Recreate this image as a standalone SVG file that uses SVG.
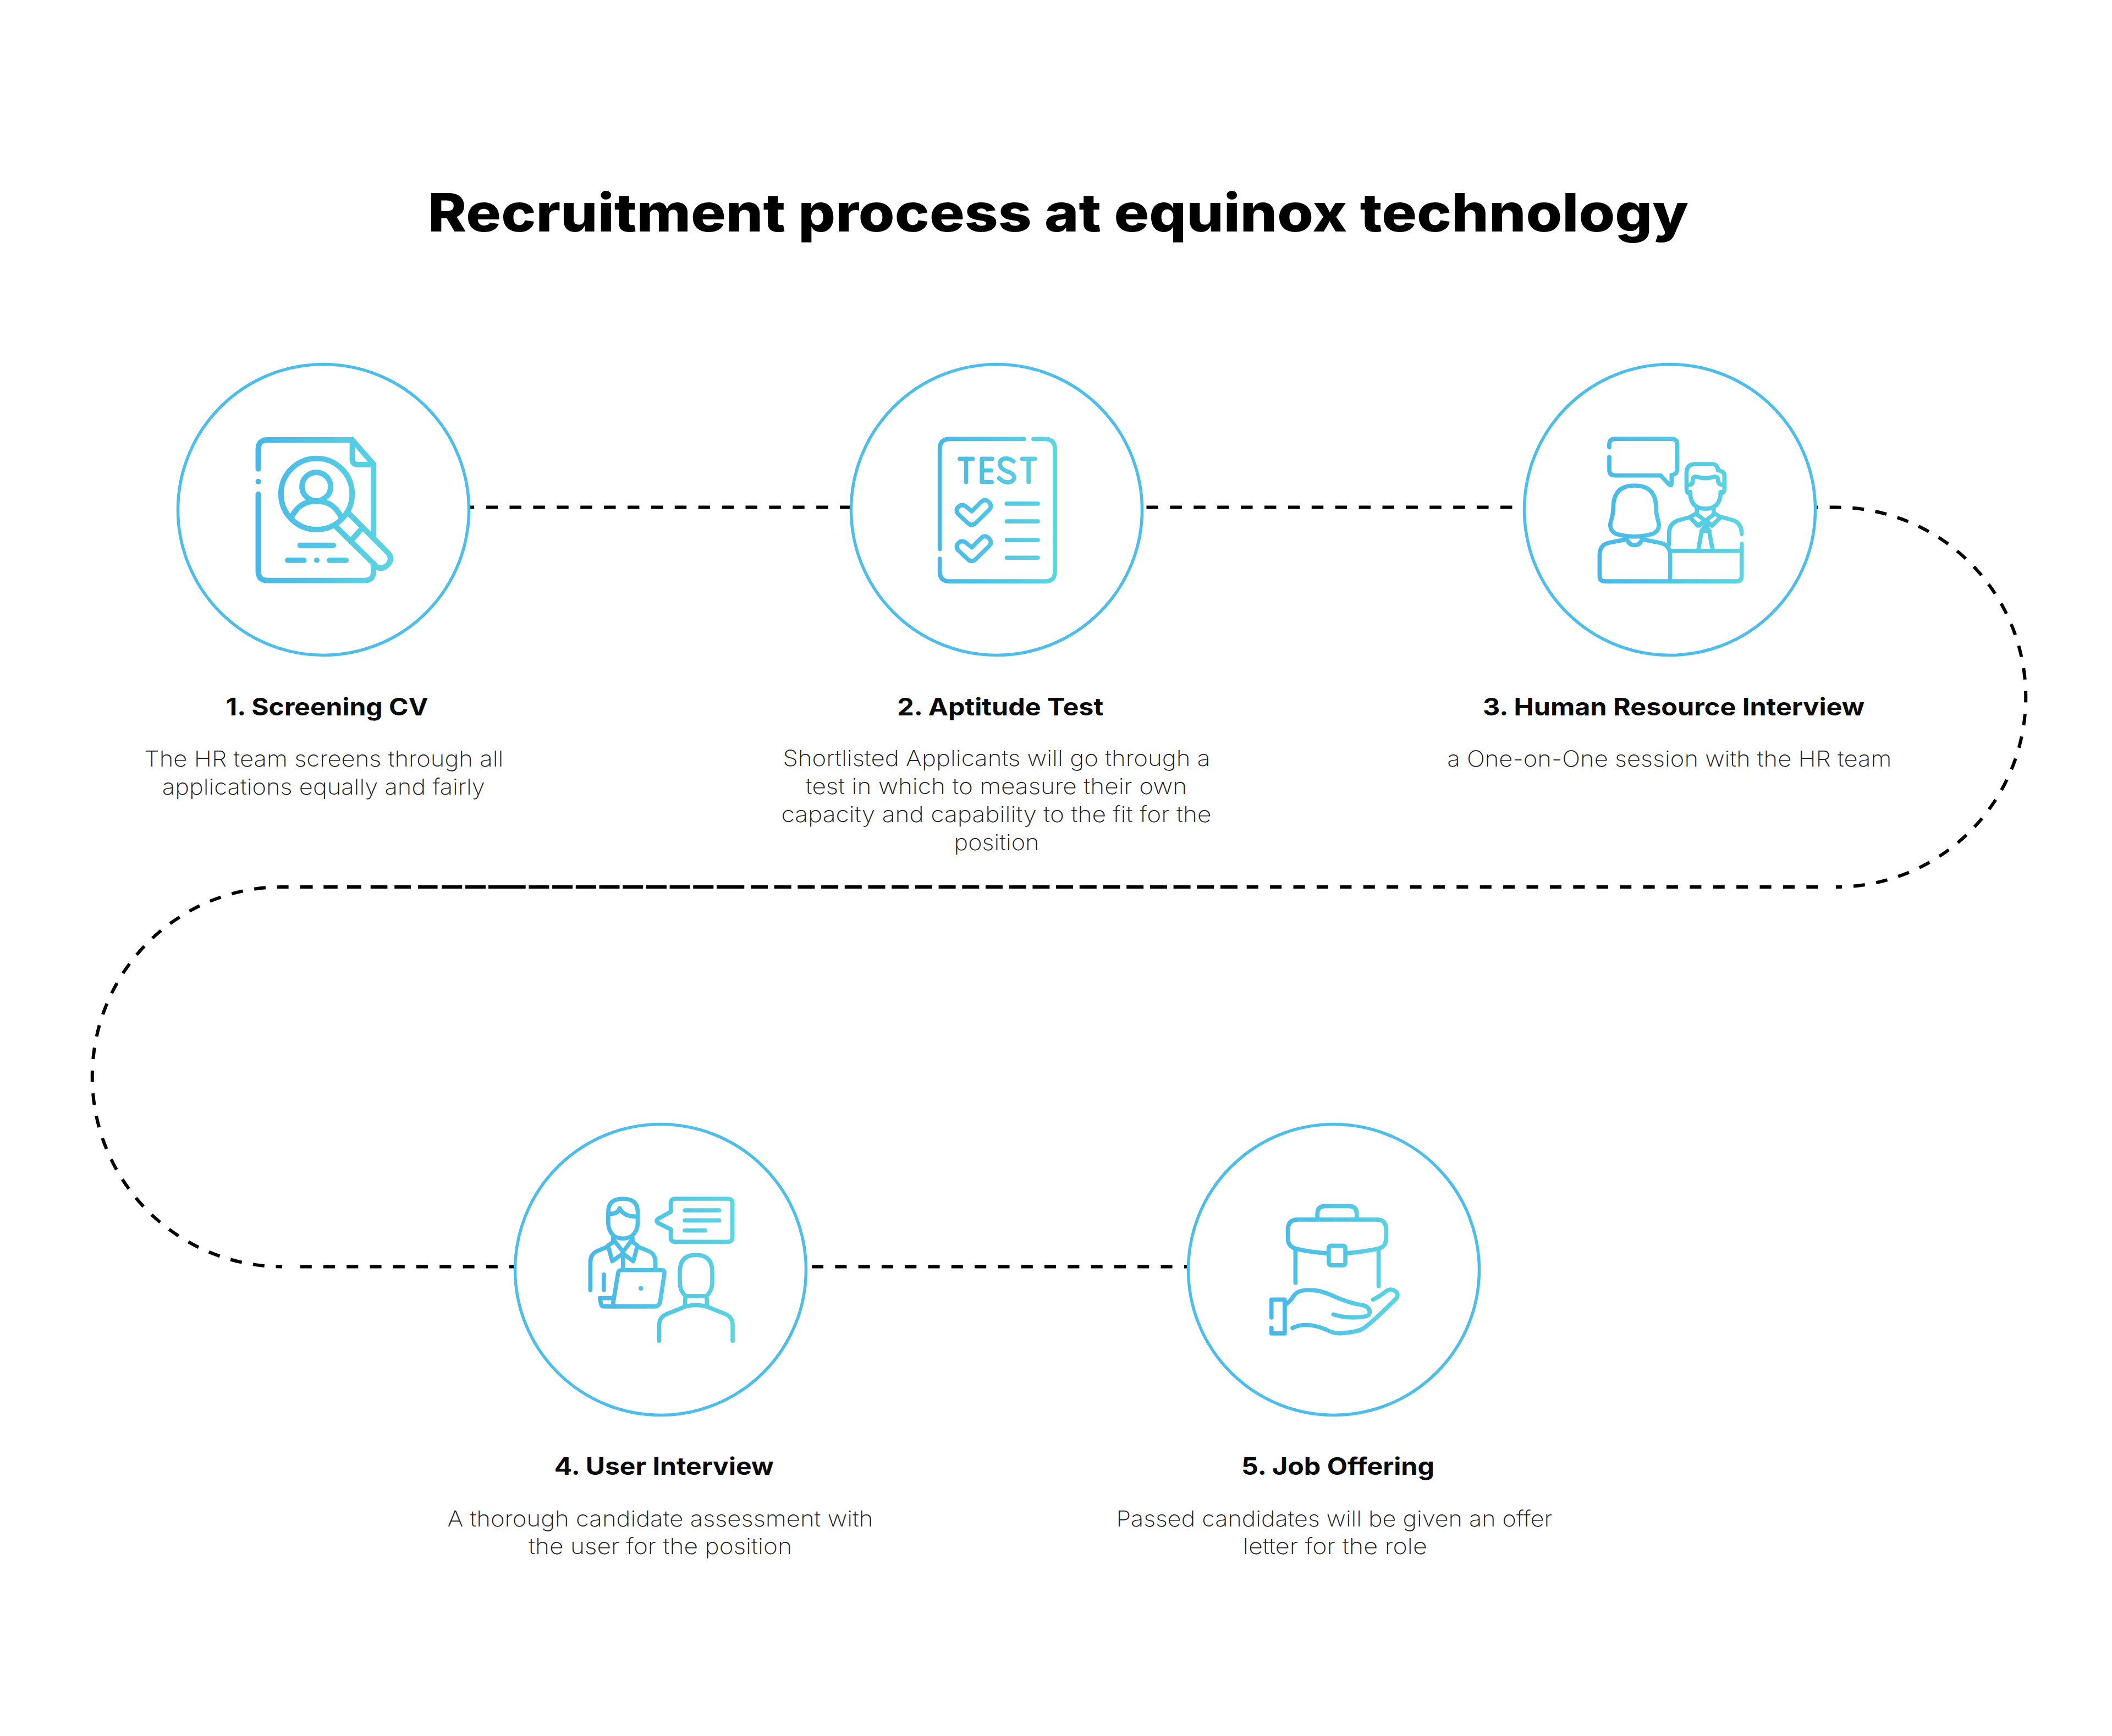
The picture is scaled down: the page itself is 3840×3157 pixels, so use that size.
<svg xmlns="http://www.w3.org/2000/svg" width="3840" height="3157" viewBox="0 0 3840 3157">
<style>
.t{font-family:"Inter","Liberation Sans",sans-serif;text-anchor:middle}
.title{font-size:96px;font-weight:800;fill:#000}
.h{font-size:44px;font-weight:700;fill:#0a0a0a}
.d{font-size:40px;font-weight:200;fill:#1a1a1a}
.c{fill:none;stroke:#000;stroke-width:6}
.ring{fill:#fff;stroke:#4dbdeb;stroke-width:5.5}
.ic{fill:none;stroke-linecap:round;stroke-linejoin:round}
</style>
<defs>
<linearGradient id="g1" gradientUnits="userSpaceOnUse" x1="430" y1="0" x2="1085" y2="0"><stop offset="0" stop-color="#47b7e9"/><stop offset="1" stop-color="#5cd5e1"/></linearGradient>
<linearGradient id="g2" gradientUnits="userSpaceOnUse" x1="485" y1="0" x2="1050" y2="0"><stop offset="0" stop-color="#47b7e9"/><stop offset="1" stop-color="#5cd5e1"/></linearGradient>
<linearGradient id="g3" gradientUnits="userSpaceOnUse" x1="430" y1="0" x2="1125" y2="0"><stop offset="0" stop-color="#47b7e9"/><stop offset="1" stop-color="#5cd5e1"/></linearGradient>
<linearGradient id="g4" gradientUnits="userSpaceOnUse" x1="445" y1="0" x2="1140" y2="0"><stop offset="0" stop-color="#47b7e9"/><stop offset="1" stop-color="#5cd5e1"/></linearGradient>
<linearGradient id="g5" gradientUnits="userSpaceOnUse" x1="465" y1="0" x2="1088" y2="0"><stop offset="0" stop-color="#47b7e9"/><stop offset="1" stop-color="#5cd5e1"/></linearGradient>
</defs>
<rect width="3840" height="3157" fill="#fff"/>
<text class="t title" x="1924" y="421" textLength="2292" lengthAdjust="spacingAndGlyphs">Recruitment process at equinox technology</text>
<g id="connectors">
<path class="c" stroke-dasharray="21.45 21.45" d="M840.7 922.5H1560"/>
<path class="c" stroke-dasharray="21.45 21.45" d="M2084.5 922.5H2760"/>
<path class="c" stroke-dasharray="21 20.7" d="M3284.5 922.5H3305.5M3326.7 922.5H3338A345 345 0 0 1 3338 1613"/>
<path class="c" stroke-dasharray="21.1 21.3" d="M3305.4 1613H2250"/>
<path class="c" stroke-dasharray="31 11.7" d="M2250 1613H1340"/>
<path class="c" stroke-dasharray="37 5.7" d="M1340 1613H925"/>
<path class="c" d="M888 1613H925M845.9 1613H883M803.3 1613H840.3M759.9 1613H795.6M717.2 1613H747.1M673.8 1613H704.4M631 1613H656.6M588.3 1613H613.8M545.6 1613H568.6"/>
<path class="c" stroke-dasharray="21 20.7" d="M524.6 1613H513A345 345 0 0 0 513 2303.5"/>
<path class="c" stroke-dasharray="21.1 21.16" d="M545.7 2303.5H945"/>
<path class="c" stroke-dasharray="21.1 21.2" d="M1476 2303.5H2165"/>
</g>
<g id="node1">
<circle class="ring" cx="588" cy="927" r="264.5"/>
<g class="ic" stroke="url(#g1)" stroke-width="26" transform="translate(300 640) scale(.3827)">
<path d="M443 556V462Q443 418 487 418H890L991 534V885M991 1005V1042Q991 1086 947 1086H487Q443 1086 443 1042V676"/>
<path d="M890 418V510Q890 535 915 535H991"/>
<path d="M443 616h.1"/>
<circle cx="720" cy="675" r="169"/>
<circle cx="719" cy="640" r="68"/>
<path d="M603 782Q640 709 719 709Q800 709 835 782"/>
<path d="M876 770L1060 955Q1085 985 1055 1015Q1025 1040 1000 1015L814 832"/>
<path d="M930 845L890 890"/>
<path d="M642 919H800M583 990H660M721 990h.1M782 990H860"/>
</g>
<text class="t h" x="594.5" y="1301" textLength="368" lengthAdjust="spacingAndGlyphs">1. Screening CV</text>
<text class="t d" x="588.8" y="1394" textLength="653" lengthAdjust="spacingAndGlyphs">The HR team screens through all</text>
<text class="t d" x="588.3" y="1445" textLength="587" lengthAdjust="spacingAndGlyphs">applications equally and fairly</text>
</g>
<g id="node2">
<circle class="ring" cx="1812" cy="927" r="264.5"/>
<g class="ic" stroke="url(#g2)" stroke-width="20" transform="translate(1520 640) scale(.3827)">
<path d="M893 414H540Q493 414 493 461V937M493 983V1043Q493 1090 540 1090H993Q1040 1090 1040 1043V461Q1040 414 993 414H938"/>
<path d="M588 508H650M618 508V618M742 508H693V618H740M693 563H737"/>
<path d="M843 520Q815 498 790 510Q770 525 785 550Q800 565 825 572Q850 585 847 600Q835 625 805 618Q790 615 775 600"/>
<path d="M884 508H946M915 508V618"/>
<path d="M645 757L687 715Q705 695 725 712Q745 732 728 750L665 812Q645 832 625 812L582 772Q565 752 582 735Q600 720 618 735Z"/>
<path d="M645 929L687 887Q705 867 725 884Q745 904 728 922L665 984Q645 1004 625 984L582 944Q565 924 582 907Q600 892 618 907Z"/>
<path d="M811 721H959M811 805H959M811 894H959M811 978H959"/>
</g>
<text class="t h" x="1818.7" y="1301" textLength="375" lengthAdjust="spacingAndGlyphs">2. Aptitude Test</text>
<text class="t d" x="1812" y="1393" textLength="777" lengthAdjust="spacingAndGlyphs">Shortlisted Applicants will go through a</text>
<text class="t d" x="1811.5" y="1444" textLength="693.5" lengthAdjust="spacingAndGlyphs">test in which to measure their own</text>
<text class="t d" x="1811.5" y="1495" textLength="782" lengthAdjust="spacingAndGlyphs">capacity and capability to the fit for the</text>
<text class="t d" x="1812" y="1545.7" textLength="155" lengthAdjust="spacingAndGlyphs">position</text>
</g>
<g id="node3">
<circle class="ring" cx="3036" cy="927" r="264.5"/>
<g class="ic" stroke="url(#g3)" stroke-width="20" transform="translate(2740 640) scale(.3827)">
<path d="M486 453V440Q486 413 513 413H782Q809 413 809 440V555Q809 582 782 585V625Q781 640 770 630L730 587H513Q486 587 486 560V500"/>
<path d="M505 740Q505 635 606 635Q708 635 708 740Q708 770 720 810Q728 850 690 865Q606 890 520 865Q485 850 492 810Q505 770 505 740Z"/>
<path d="M555 893L485 907Q440 917 440 965V1065Q440 1090 465 1090H1090Q1115 1090 1115 1065V912"/>
<path d="M655 893L725 907Q775 917 775 965V1090"/>
<path d="M570 890Q580 918 606 918Q632 918 642 890"/>
<path d="M770 915V860Q770 815 815 800L870 785M1020 785L1075 800Q1115 815 1115 865"/>
<path d="M775 946H1115"/>
<path d="M860 670Q853 665 853 650V575Q853 533 895 533H975Q1000 533 1003 563Q1033 565 1033 590V650Q1033 670 1015 672"/>
<path d="M862 632Q882 632 882 612Q882 590 900 593Q943 607 985 593Q1003 590 1003 612Q1003 632 1030 632"/>
<path d="M870 665Q870 745 943 745Q1015 745 1015 665"/>
<path d="M902 735V770M982 735V770"/>
<path d="M902 765L870 785L905 825L943 800L975 825L1015 785L982 765"/>
<path d="M900 770L972 825M985 770L913 825"/>
<path d="M925 850L943 825L962 850ZM925 850L908 946M960 850L978 946"/>
</g>
<text class="t h" x="3043" y="1301" textLength="694" lengthAdjust="spacingAndGlyphs">3. Human Resource Interview</text>
<text class="t d" x="3035.3" y="1394" textLength="808" lengthAdjust="spacingAndGlyphs">a One-on-One session with the HR team</text>
</g>
<g id="node4">
<circle class="ring" cx="1201" cy="2309" r="264.5"/>
<g class="ic" stroke="url(#g4)" stroke-width="20" transform="translate(900 2020) scale(.3827)">
<path d="M538 480Q538 418 608 418Q678 418 678 480V535Q678 570 650 595Q630 607 608 607Q585 607 565 595Q538 570 538 535Z"/>
<path d="M545 488Q580 495 592 463Q610 503 672 503"/>
<path d="M562 595L560 625M652 595L655 625"/>
<path d="M560 625L537 640L557 715L608 678L657 715L677 640L655 625M565 615L608 670L650 615"/>
<path d="M537 645L485 667Q453 680 453 720V852M677 645L730 667Q762 680 762 720V755"/>
<path d="M608 678V755M517 778V852"/>
<path d="M585 770Q588 757 600 757H795Q806 757 805 772L785 905Q780 930 760 930H520Q505 930 503 915L498 890H555M585 770L560 920"/>
<path d="M693 844h.1" stroke-width="22"/>
<path d="M835 480V440Q835 418 857 418H1105Q1128 418 1128 440V600Q1128 623 1105 623H857Q835 623 835 600V563L775 533Q762 523 775 513Z"/>
<path d="M902 473H1065M902 521H1065M902 569H999"/>
<path d="M878 765Q878 685 955 685Q1032 685 1032 765V815Q1032 855 1005 880H905Q878 855 878 815Z"/>
<path d="M905 880L902 930M1005 880L1008 930"/>
<path d="M780 1093V1020Q780 980 815 966L905 930Q955 917 1005 930L1095 966Q1129 980 1129 1020V1093"/>
</g>
<text class="t h" x="1207.3" y="2682" textLength="399" lengthAdjust="spacingAndGlyphs">4. User Interview</text>
<text class="t d" x="1200.5" y="2776" textLength="774" lengthAdjust="spacingAndGlyphs">A thorough candidate assessment with</text>
<text class="t d" x="1200.5" y="2826" textLength="479" lengthAdjust="spacingAndGlyphs">the user for the position</text>
</g>
<g id="node5">
<circle class="ring" cx="2425" cy="2309" r="264.5"/>
<g class="ic" stroke="url(#g5)" stroke-width="20" transform="translate(2130 2020) scale(.3827)">
<path d="M693 515V490Q693 453 730 453H843Q880 453 880 490V515"/>
<path d="M835 677Q910 670 985 655Q1020 645 1020 605V565Q1020 517 975 517H600Q553 517 553 565V605Q553 645 590 655Q660 672 737 677"/>
<rect x="747" y="641" width="79" height="93" rx="10"/>
<path d="M589 655V817M984 655V833"/>
<path d="M475 982V897H538V1058H475V1032"/>
<path d="M543 920Q565 905 580 880Q600 850 660 852Q710 852 780 885Q850 915 905 923Q942 930 942 958Q940 975 915 978Q840 990 769 968"/>
<path d="M575 1032Q640 1000 735 1040Q775 1062 815 1056Q880 1052 910 1035Q950 1010 1065 895Q1085 870 1060 855Q1040 843 1020 858Q990 882 958 897"/>
</g>
<text class="t h" x="2432.5" y="2682" textLength="351" lengthAdjust="spacingAndGlyphs">5. Job Offering</text>
<text class="t d" x="2425.9" y="2776" textLength="793" lengthAdjust="spacingAndGlyphs">Passed candidates will be given an offer</text>
<text class="t d" x="2427.3" y="2826" textLength="335" lengthAdjust="spacingAndGlyphs">letter for the role</text>
</g>
</svg>
